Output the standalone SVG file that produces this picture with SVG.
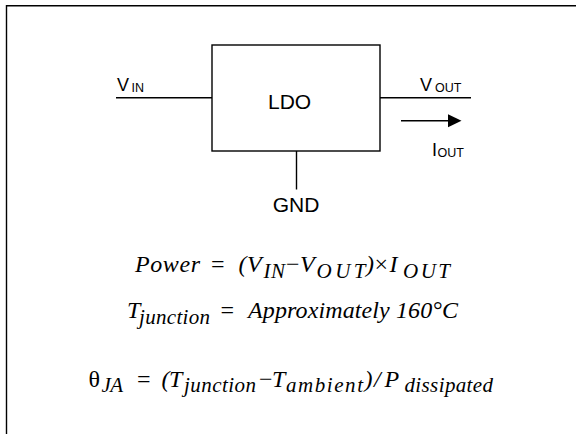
<svg xmlns="http://www.w3.org/2000/svg" width="576" height="434" viewBox="0 0 576 434">
<style>
.ln{stroke:#000;stroke-width:1.4;fill:none}
.sans{font-family:"Liberation Sans",Arial,sans-serif;fill:#000}
.m{font-family:"Liberation Serif","Times New Roman",serif;font-style:italic;font-size:24px;fill:#000}
.s{font-family:"Liberation Serif","Times New Roman",serif;font-style:italic;font-size:21px;fill:#000}
.u{font-family:"Liberation Serif","Times New Roman",serif;font-size:24px;fill:#000}
</style>
<rect width="576" height="434" fill="#fff"/>
<g id="frame">
<path class="ln" d="M6.5,434 V5.7 H576" stroke-width="1.5"/>
</g>
<g id="ldo">
<rect class="ln" x="212" y="45" width="168" height="106"/>
<text class="sans" x="268" y="109" font-size="21">LDO</text>
</g>
<g id="vin">
<text class="sans" x="117" y="91" font-size="18">V</text>
<text class="sans" x="131.5" y="92" font-size="12.5">IN</text>
</g>
<g id="vout">
<text class="sans" x="420" y="91" font-size="18">V</text>
<text class="sans" x="435" y="92" font-size="12.5">OUT</text>
</g>
<g id="iout">
<text class="sans" x="432" y="156" font-size="18">I</text>
<text class="sans" x="437.5" y="157" font-size="12.5">OUT</text>
</g>
<g id="gnd">
<text class="sans" x="296" y="211.5" font-size="21" text-anchor="middle">GND</text>
</g>
<g id="connectors">
<line class="ln" x1="116" y1="97.7" x2="212" y2="97.7"/>
<line class="ln" x1="380" y1="97.7" x2="471" y2="97.7"/>
<line class="ln" x1="296.5" y1="151" x2="296.5" y2="189.5"/>
<line class="ln" x1="401" y1="120.8" x2="450" y2="120.8" stroke-width="1.6"/>
<polygon points="448,114.3 461.5,120.8 448,127.3" fill="#000"/>
</g>
<g id="equations">
<text class="m" x="135" y="272.3" textLength="65" lengthAdjust="spacing">Power</text>
<text class="u" x="211" y="272.3">=</text>
<text class="m" x="238.5" y="272.3">(</text>
<text class="m" x="247" y="272.3">V</text>
<text class="s" x="263.5" y="278.3" textLength="21.5" lengthAdjust="spacing">IN</text>
<text class="u" x="286" y="272.3">−</text>
<text class="m" x="300" y="272.3">V</text>
<text class="s" x="316.5" y="278.3" textLength="49" lengthAdjust="spacing">OUT</text>
<text class="m" x="366" y="272.3">)</text>
<text class="u" x="374.5" y="272.3">×</text>
<text class="m" x="389.5" y="272.3">I</text>
<text class="s" x="403" y="278.3" textLength="47" lengthAdjust="spacing">OUT</text>

<text class="m" x="127" y="318.3">T</text>
<text class="s" x="139" y="323.5" textLength="71" lengthAdjust="spacing">junction</text>
<text class="u" x="220.5" y="318.3">=</text>
<text class="m" x="248" y="318.3" textLength="210" lengthAdjust="spacing">Approximately 160°C</text>

<text class="u" x="88.5" y="386.7">θ</text>
<text class="s" x="101.5" y="391.5" textLength="21.5" lengthAdjust="spacing">JA</text>
<text class="u" x="137" y="386.7">=</text>
<text class="m" x="161.5" y="386.7">(</text>
<text class="m" x="169" y="386.7">T</text>
<text class="s" x="184" y="391.5" textLength="72" lengthAdjust="spacing">junction</text>
<text class="u" x="259" y="386.7">−</text>
<text class="m" x="272" y="386.7">T</text>
<text class="s" x="286" y="391.5" textLength="77" lengthAdjust="spacing">ambient</text>
<text class="m" x="364.5" y="386.7">)</text>
<text class="m" x="374" y="386.7">/</text>
<text class="m" x="384.5" y="386.7">P</text>
<text class="s" x="404.5" y="391.5" textLength="88.5" lengthAdjust="spacing">dissipated</text>
</g>
</svg>
